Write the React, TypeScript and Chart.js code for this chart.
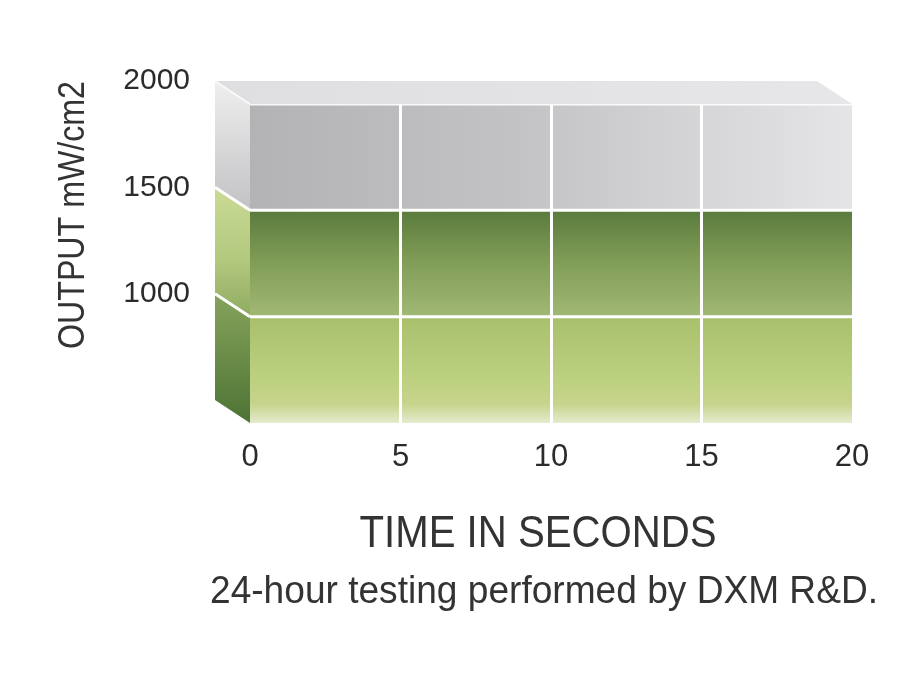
import { useEffect, useRef } from 'react';
import Chart from 'chart.js/auto';

// time axis (seconds) and the three stacked output bands (mW/cm2)
const seconds = [0, 5, 10, 15, 20];
const lowerBand = [1000, 1000, 1000, 1000, 1000];
const middleBand = [1500, 1500, 1500, 1500, 1500];
const upperBand = [2000, 2000, 2000, 2000, 2000];
const yTickValues = [1000, 1500, 2000];
const xTickValues = [0, 5, 10, 15, 20];
const yMin = 500;
const yMax = 2000;

const yTitle = 'OUTPUT mW/cm2';
const xTitle = 'TIME IN SECONDS';
const footnote = '24-hour testing performed by DXM R&D.';

// fake 3D depth of the block
const DEPTH_X = 35;
const DEPTH_Y = 23;
const TEXT = '#333333';

function gradient(ctx: CanvasRenderingContext2D, x0: number, y0: number, x1: number, y1: number, stops: [number, string][]) {
  const g = ctx.createLinearGradient(x0, y0, x1, y1);
  stops.forEach(([o, c]) => g.addColorStop(o, c));
  return g;
}

function drawFitted(ctx: CanvasRenderingContext2D, text: string, x: number, y: number, size: number, width: number, rotate = false) {
  ctx.save();
  ctx.font = `${size}px "Liberation Sans", Arial, sans-serif`;
  ctx.fillStyle = TEXT;
  ctx.textAlign = 'center';
  ctx.textBaseline = 'alphabetic';
  ctx.translate(x, y);
  if (rotate) ctx.rotate(-Math.PI / 2);
  const w = ctx.measureText(text).width;
  ctx.scale(width / w, 1);
  ctx.fillText(text, 0, 0);
  ctx.restore();
}

const depthPlugin = {
  id: 'depthFaces',
  beforeDatasetsDraw(chart: any) {
    const { ctx, chartArea, scales } = chart;
    const { left, right, top } = chartArea;
    const y = scales.y;
    const bands: [number, number, [number, string][]][] = [
      [yMin, lowerBand[0], [[0, '#86a35c'], [0.5, '#6a8c48'], [1, '#4d7335']]],
      [lowerBand[0], middleBand[0], [[0, '#cadb96'], [0.55, '#b3c97e'], [1, '#8fab62']]],
      [middleBand[0], upperBand[0], [[0, '#efeff0'], [1, '#c2c2c4']]],
    ];
    ctx.save();
    bands.forEach(([lo, hi, stops]) => {
      const ya = y.getPixelForValue(lo);
      const yb = y.getPixelForValue(hi);
      ctx.fillStyle = gradient(ctx, 0, yb - DEPTH_Y, 0, ya, stops);
      ctx.beginPath();
      ctx.moveTo(left - DEPTH_X, yb - DEPTH_Y);
      ctx.lineTo(left, yb);
      ctx.lineTo(left, ya);
      ctx.lineTo(left - DEPTH_X, ya - DEPTH_Y);
      ctx.closePath();
      ctx.fill();
    });
    // top face
    ctx.fillStyle = gradient(ctx, left, 0, right, 0, [[0, '#dfdfe1'], [1, '#e7e7e9']]);
    ctx.beginPath();
    ctx.moveTo(left - DEPTH_X, top - DEPTH_Y);
    ctx.lineTo(right - DEPTH_X, top - DEPTH_Y);
    ctx.lineTo(right, top);
    ctx.lineTo(left, top);
    ctx.closePath();
    ctx.fill();
    // white separators on the side face
    ctx.strokeStyle = '#ffffff';
    ctx.lineWidth = 3;
    [lowerBand[0], middleBand[0]].forEach((v) => {
      const p = y.getPixelForValue(v);
      ctx.beginPath();
      ctx.moveTo(left - DEPTH_X, p - DEPTH_Y);
      ctx.lineTo(left, p);
      ctx.stroke();
    });
    ctx.strokeStyle = 'rgba(255,255,255,0.8)';
    ctx.lineWidth = 1.5;
    ctx.beginPath();
    ctx.moveTo(left - DEPTH_X, top - DEPTH_Y);
    ctx.lineTo(left, top);
    ctx.stroke();
    ctx.restore();
  },
  afterDraw(chart: any) {
    const { ctx } = chart;
    drawFitted(ctx, yTitle, 84, 215, 36, 268, true);
    drawFitted(ctx, xTitle, 538, 547, 45, 357);
    drawFitted(ctx, footnote, 544, 603, 39, 668);
  },
};

export default function App() {
  const canvasRef = useRef<HTMLCanvasElement | null>(null);

  useEffect(() => {
    if (!canvasRef.current) return;

    const bandFill = (lo: number, hi: number, stops: [number, string][], horizontal = false) => (c: any) => {
      const { ctx, chartArea, scales } = c.chart;
      if (!chartArea) return 'transparent';
      if (horizontal) return gradient(ctx, chartArea.left, 0, chartArea.right, 0, stops);
      return gradient(ctx, 0, scales.y.getPixelForValue(hi), 0, scales.y.getPixelForValue(lo), stops);
    };

    const chart = new Chart(canvasRef.current, {
      type: 'line',
      data: {
        labels: seconds,
        datasets: [
          {
            label: 'lower',
            data: seconds.map((s, i) => ({ x: s, y: lowerBand[i] })),
            fill: 'start',
            backgroundColor: bandFill(yMin, lowerBand[0], [[0, '#a8bf6c'], [0.55, '#bbd07e'], [0.82, '#c6d48c'], [1, '#e3ebcd']]),
            borderColor: '#ffffff',
            borderWidth: 3,
            pointRadius: 0,
          },
          {
            label: 'middle',
            data: seconds.map((s, i) => ({ x: s, y: middleBand[i] })),
            fill: '-1',
            backgroundColor: bandFill(lowerBand[0], middleBand[0], [[0, '#5a7b3d'], [0.45, '#7e9b55'], [1, '#a1b974']]),
            borderColor: '#ffffff',
            borderWidth: 3,
            pointRadius: 0,
          },
          {
            label: 'upper',
            data: seconds.map((s, i) => ({ x: s, y: upperBand[i] })),
            fill: '-1',
            backgroundColor: bandFill(middleBand[0], upperBand[0], [[0, '#b3b3b5'], [0.45, '#c3c3c5'], [1, '#e5e5e7']], true),
            borderColor: 'rgba(255,255,255,0.9)',
            borderWidth: 3,
            pointRadius: 0,
          },
        ],
      },
      options: {
        animation: false,
        responsive: true,
        maintainAspectRatio: false,
        layout: { padding: { top: 104, right: 48, left: 70, bottom: 217 } },
        plugins: {
          legend: { display: false },
          tooltip: { enabled: false },
        },
        scales: {
          x: {
            type: 'linear',
            min: 0,
            max: 20,
            afterBuildTicks: (s: any) => {
              s.ticks = xTickValues.map((v) => ({ value: v }));
            },
            afterFit: (s: any) => {
              s.height = 60;
              s.paddingLeft = 0;
              s.paddingRight = 0;
            },
            grid: {
              z: 1,
              color: (c: any) => (c.tick && c.tick.value > 0 && c.tick.value < 20 ? '#ffffff' : 'rgba(0,0,0,0)'),
              lineWidth: 3,
              drawTicks: false,
            },
            border: { display: false },
            ticks: {
              color: '#2b2b2b',
              padding: 16,
              maxRotation: 0,
              callback: (v: any) => String(v),
              font: { family: '"Liberation Sans", Arial, sans-serif', size: 31 },
            },
          },
          y: {
            min: yMin,
            max: yMax,
            afterBuildTicks: (s: any) => {
              s.ticks = yTickValues.map((v) => ({ value: v }));
            },
            afterFit: (s: any) => {
              s.width = 180;
              s.paddingTop = 0;
              s.paddingBottom = 0;
            },
            grid: { display: false, drawTicks: false },
            border: { display: false },
            ticks: {
              color: '#2b2b2b',
              padding: 60,
              labelOffset: -DEPTH_Y,
              callback: (v: any) => String(v),
              font: { family: '"Liberation Sans", Arial, sans-serif', size: 30 },
            },
          },
        },
      },
      plugins: [depthPlugin],
    });

    return () => {
      chart.destroy();
    };
  }, []);

  return (
    <div style={{ position: 'absolute', left: 0, top: 0, width: 900, height: 700, background: '#ffffff' }}>
      <canvas ref={canvasRef} />
    </div>
  );
}
